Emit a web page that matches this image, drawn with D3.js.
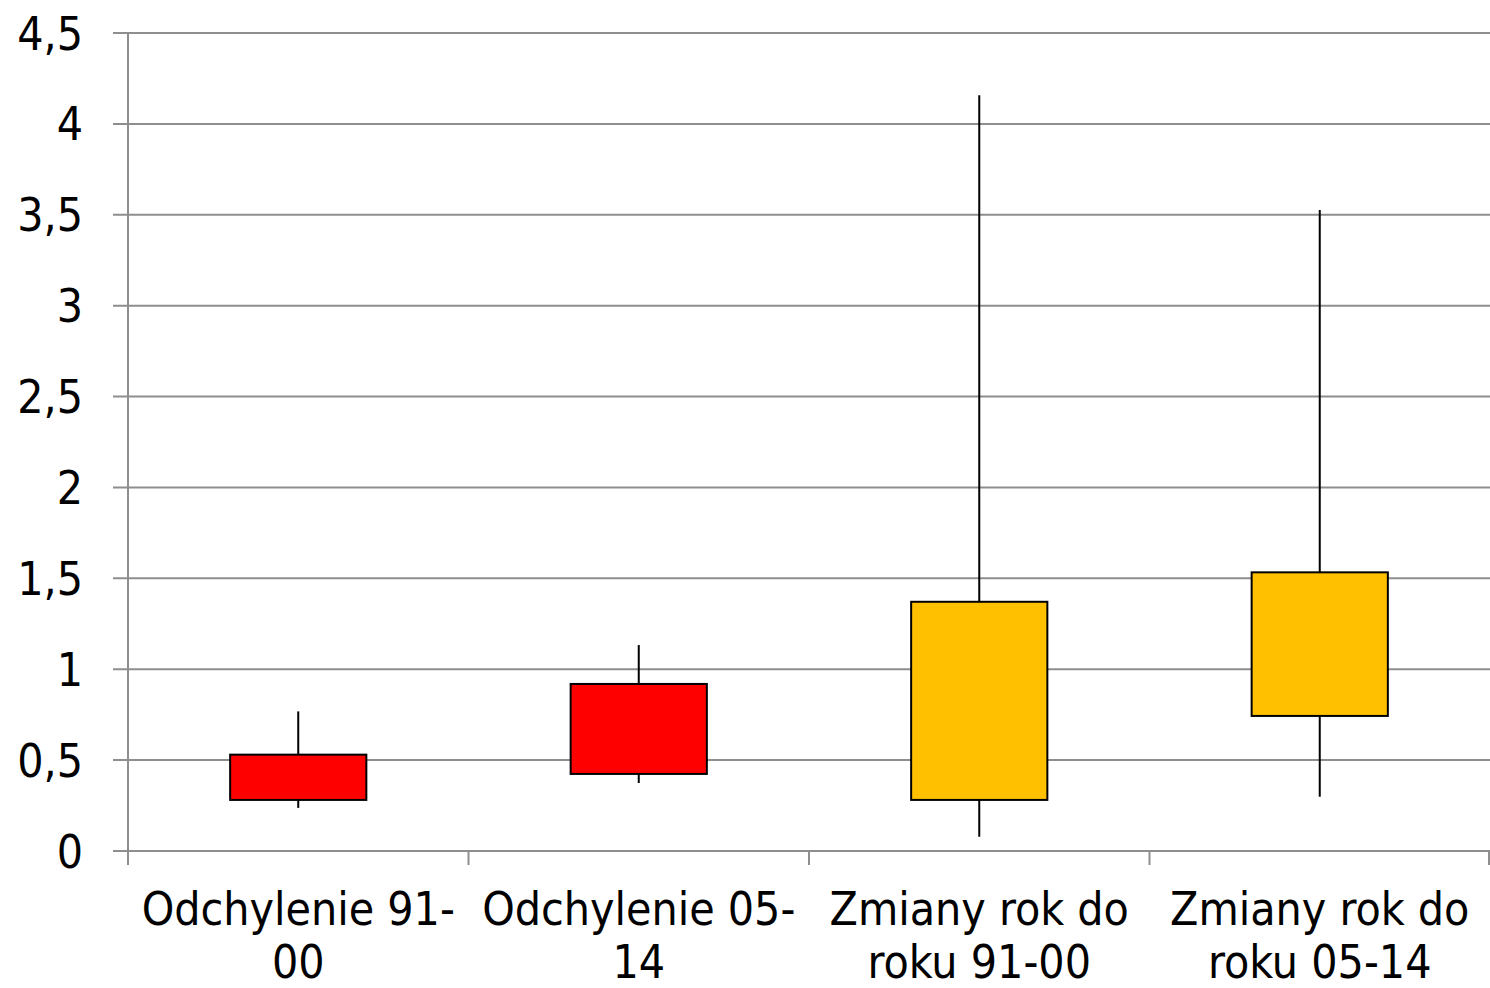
<!DOCTYPE html>
<html>
<head>
<meta charset="utf-8">
<script src="https://cdn.jsdelivr.net/npm/d3@7"></script>
<style>
    body { margin: 0; background: #fff; }
    text { font-family: "DejaVu Sans Condensed", "DejaVu Sans", sans-serif; fill: #000; }
</style>
</head>
<body>
<div id="chart"></div>
<script>
// Data
var categories = [["Odchylenie 91-", "00"], ["Odchylenie 05-", "14"], ["Zmiany rok do", "roku 91-00"], ["Zmiany rok do", "roku 05-14"]];
var whiskerLow = [0.237, 0.374, 0.079, 0.299];
var boxLow = [0.281, 0.424, 0.281, 0.743];
var boxHigh = [0.530, 0.919, 1.371, 1.533];
var whiskerHigh = [0.768, 1.133, 4.158, 3.526];
var boxColors = ["#FF0000", "#FF0000", "#FFC000", "#FFC000"];
var yTicks = [0, 0.5, 1, 1.5, 2, 2.5, 3, 3.5, 4, 4.5];

var svgWidth = 1490;
var svgHeight = 988;
var margin = { top: 33, right: 0, bottom: 137, left: 128 };
var width = svgWidth - margin.left - margin.right;
var height = svgHeight - margin.top - margin.bottom;

var svg = d3.select("#chart")
    .append("svg")
    .attr("width", svgWidth)
    .attr("height", svgHeight);

var chartGroup = svg.append("g")
    .attr("transform", `translate(${margin.left}, ${margin.top})`);

var idx = d3.range(categories.length);

var xScale = d3.scaleBand()
    .domain(idx)
    .range([0, width])
    .padding(0);

var yScale = d3.scaleLinear()
    .domain([0, 4.5])
    .range([height, 0]);

// gridlines
chartGroup.append("g")
    .selectAll("line")
    .data(yTicks)
    .enter()
    .append("line")
    .attr("x1", -15)
    .attr("x2", width)
    .attr("y1", d => yScale(d))
    .attr("y2", d => yScale(d))
    .attr("stroke", "#8e8e8e")
    .attr("stroke-width", 2);

// y axis line
chartGroup.append("line")
    .attr("x1", 0).attr("x2", 0)
    .attr("y1", 0).attr("y2", height + 14)
    .attr("stroke", "#8e8e8e")
    .attr("stroke-width", 2);

// x category boundary ticks
chartGroup.append("g")
    .selectAll("line")
    .data(idx.concat([categories.length]))
    .enter()
    .append("line")
    .attr("x1", d => d === categories.length ? width - 1 : xScale(d))
    .attr("x2", d => d === categories.length ? width - 1 : xScale(d))
    .attr("y1", height)
    .attr("y2", height + 14)
    .attr("stroke", "#8e8e8e")
    .attr("stroke-width", 2);

// y tick labels
chartGroup.append("g")
    .selectAll("text")
    .data(yTicks)
    .enter()
    .append("text")
    .attr("x", -45)
    .attr("y", d => yScale(d))
    .attr("dy", "0.36em")
    .attr("text-anchor", "end")
    .attr("font-size", "46px")
    .text(d => d3.format(".1~f")(d).replace(".", ","));

var center = i => xScale(i) + xScale.bandwidth() / 2;
var boxWidth = xScale.bandwidth() * 0.4;

// whiskers
chartGroup.append("g")
    .selectAll("line")
    .data(idx)
    .enter()
    .append("line")
    .attr("x1", i => center(i))
    .attr("x2", i => center(i))
    .attr("y1", i => yScale(whiskerHigh[i]))
    .attr("y2", i => yScale(whiskerLow[i]))
    .attr("stroke", "#000")
    .attr("stroke-width", 2);

// boxes
chartGroup.append("g")
    .selectAll("rect")
    .data(idx)
    .enter()
    .append("rect")
    .attr("x", i => center(i) - boxWidth / 2)
    .attr("width", boxWidth)
    .attr("y", i => yScale(boxHigh[i]))
    .attr("height", i => yScale(boxLow[i]) - yScale(boxHigh[i]))
    .attr("fill", i => boxColors[i])
    .attr("stroke", "#000")
    .attr("stroke-width", 2);

// category labels
var labels = chartGroup.append("g")
    .selectAll("text")
    .data(idx)
    .enter()
    .append("text")
    .attr("text-anchor", "middle")
    .attr("font-size", "46px");

labels.each(function(i) {
    var t = d3.select(this);
    categories[i].forEach((line, k) => {
        t.append("tspan")
            .attr("x", center(i))
            .attr("y", height + 74 + k * 53)
            .text(line);
    });
});
</script>
</body>
</html>
